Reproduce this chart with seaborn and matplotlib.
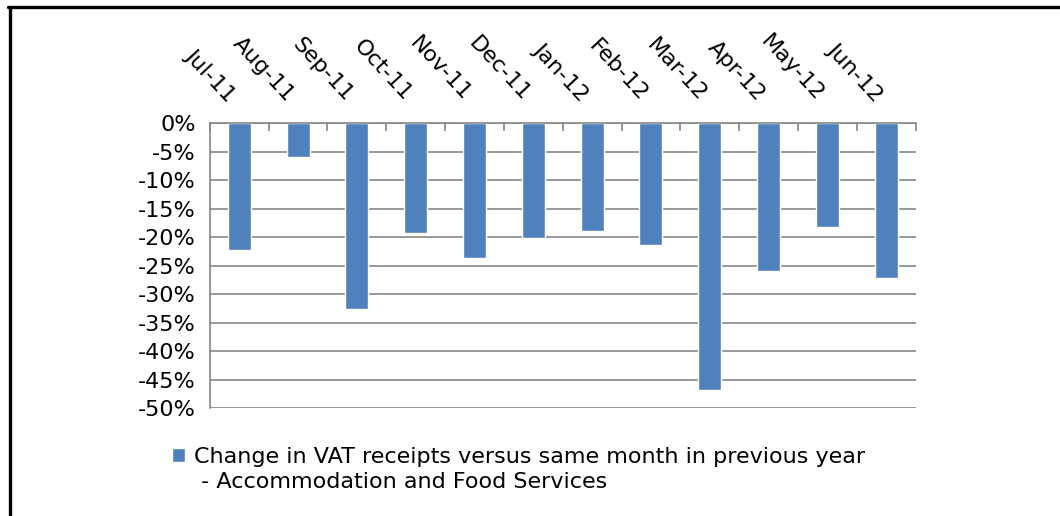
import numpy as np
import pandas as pd
import matplotlib
matplotlib.use("Agg")
import matplotlib.pyplot as plt
from matplotlib.lines import Line2D
from matplotlib.patches import Rectangle
from matplotlib.legend_handler import HandlerPatch
from matplotlib.ticker import FuncFormatter, FixedLocator
import seaborn as sns

OUT_PATH = "out.png"
BAR_COLOR = "#4F81BD"
GRID_COLOR = "#868686"
LEGEND_LINESPACING = 1.3

# months on the x axis
months = ["Jul-11", "Aug-11", "Sep-11", "Oct-11", "Nov-11", "Dec-11",
          "Jan-12", "Feb-12", "Mar-12", "Apr-12", "May-12", "Jun-12"]
# % change in VAT receipts vs same month previous year
vat_change = [-22.3, -6.0, -32.6, -19.3, -23.7, -20.1,
              -19.0, -21.4, -46.8, -26.0, -18.2, -27.2]
series_label = ("Change in VAT receipts versus same month in previous year\n"
                " - Accommodation and Food Services")
y_ticks = list(range(0, -55, -5))


def square_on_first_line(legend, orig_handle, xdescent, ydescent, width, height, fontsize):
    # legend centres the marker on the two lines; push it up to the first one
    shift = 0.5 * LEGEND_LINESPACING * fontsize
    return Rectangle((-xdescent, -ydescent + shift), width, height)


def main():
    sns.set_style("white")
    plt.rcParams["font.family"] = ["DejaVu Sans"]
    plt.rcParams["text.color"] = "black"
    plt.rcParams["xtick.color"] = "black"
    plt.rcParams["ytick.color"] = "black"
    fs = 16

    df = pd.DataFrame({"month": months, "change": vat_change})

    fig = plt.figure(figsize=(10.6, 5.16), dpi=100)
    ax = fig.add_axes([0.198, 0.2093, 0.6657, 0.5523])

    sns.barplot(data=df, x="month", y="change", color=BAR_COLOR, width=0.39,
                saturation=1, label=series_label, ax=ax, zorder=3)
    if ax.get_legend() is not None:
        ax.get_legend().remove()

    ax.set_ylim(-50, 0)
    ax.set_xlim(-0.5, len(months) - 0.5)
    ax.set_xlabel("")
    ax.set_ylabel("")

    # y axis: percentages, gray gridlines
    ax.yaxis.set_major_locator(FixedLocator(y_ticks))
    ax.yaxis.set_major_formatter(FuncFormatter(lambda v, p: f"{int(round(v))}%"))
    ax.tick_params(axis="y", labelsize=fs, length=6, color=GRID_COLOR,
                   labelcolor="black", direction="out", pad=4)
    ax.grid(axis="y", color=GRID_COLOR, linewidth=1.2, zorder=0)
    ax.set_axisbelow(True)

    # x axis on top: boundary ticks pointing in, labels on centre (minor) ticks
    ax.xaxis.tick_top()
    ax.set_xticks(np.arange(-0.5, len(months)), labels=[""] * (len(months) + 1))
    ax.set_xticks(np.arange(len(months)), labels=months, minor=True)
    ax.tick_params(axis="x", which="major", direction="in", length=6,
                   color=GRID_COLOR, width=1.2, top=True, bottom=False)
    ax.tick_params(axis="x", which="minor", length=0, labelsize=fs, pad=13,
                   labelcolor="black", top=True, bottom=False,
                   labeltop=True, labelbottom=False)
    for lbl in ax.get_xticklabels(minor=True):
        lbl.set_rotation(-47)
        lbl.set_ha("right")
        lbl.set_va("bottom")

    for side in ["right", "bottom"]:
        ax.spines[side].set_visible(False)
    for side in ["left", "top"]:
        ax.spines[side].set_color(GRID_COLOR)
        ax.spines[side].set_linewidth(1.2)
        ax.spines[side].set_zorder(4)

    # legend below the plot, square marker next to the first line
    leg = fig.legend([ax.patches[0]], [series_label], loc="upper left",
                     bbox_to_anchor=(0.162, 0.134), frameon=False, fontsize=fs,
                     handlelength=0.6, handleheight=0.6, handletextpad=0.4,
                     borderpad=0, borderaxespad=0, labelspacing=0,
                     handler_map={Rectangle: HandlerPatch(patch_func=square_on_first_line)})
    for t in leg.get_texts():
        t.set_linespacing(LEGEND_LINESPACING)

    # black frame on top and left edge
    fig.add_artist(Line2D([0.008, 1.0], [0.9874, 0.9874], color="black",
                          linewidth=2.4, transform=fig.transFigure))
    fig.add_artist(Line2D([0.009, 0.009], [0.0, 0.9874], color="black",
                          linewidth=2.4, transform=fig.transFigure))

    fig.savefig(OUT_PATH, dpi=100)
    plt.close(fig)
    print(f"Saved {OUT_PATH}")


if __name__ == "__main__":
    main()
